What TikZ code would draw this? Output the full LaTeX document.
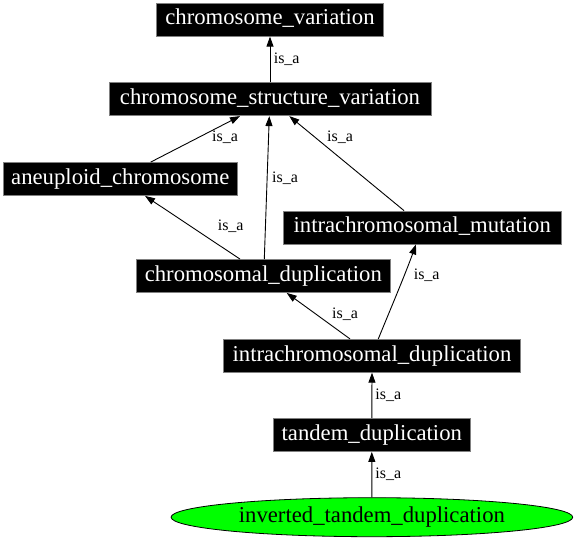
\documentclass[tikz,border=0pt]{standalone}
\usepackage{fontspec}
\setmainfont{Liberation Serif}
\usetikzlibrary{arrows.meta,shapes.geometric,calc}
\begin{document}
\begin{tikzpicture}[x=1pt,y=-1pt,
  box/.style={draw=gray,line width=0.8pt,fill=black,text=white,font=\fontsize{22.7}{26}\selectfont,inner sep=0pt,minimum height=33pt,text height=15.6pt,text depth=5pt},
  oval/.style={ellipse,draw=black,line width=0.8pt,fill=green,text=black,font=\fontsize{22.7}{26}\selectfont,inner sep=0pt,text height=15.6pt,text depth=5pt},
  lbl/.style={font=\fontsize{16}{18}\selectfont,inner sep=0pt},
  isa/.style={draw=black,line width=0.9pt,-{Triangle[length=10pt,width=7pt]}}]
\useasboundingbox[fill=white] (0,0) rectangle (576,540);
\node[box,minimum width=226.6pt] (cv) at (270,19.7) {chromosome\_variation};
\node[box,minimum width=322pt] (csv) at (270,99.2) {chromosome\_structure\_variation};
\node[box,minimum width=234pt] (aneu) at (120.3,179) {aneuploid\_chromosome};
\node[box,minimum width=277.7pt] (imut) at (422.2,227.5) {intrachromosomal\_mutation};
\node[box,minimum width=253.3pt] (cdup) at (263.3,276) {chromosomal\_duplication};
\node[box,minimum width=297.4pt] (idup) at (372,355.8) {intrachromosomal\_duplication};
\node[box,minimum width=197.3pt] (tdup) at (371.8,435) {tandem\_duplication};
\node[oval,minimum width=401.7pt,minimum height=39pt] (inv) at (371.9,517.2) {inverted\_tandem\_duplication};

\draw[isa] (csv.north) -- (cv.south);
\draw[isa] ([xshift=30.4pt]aneu.north) -- ([xshift=-30pt]csv.south);
\draw[isa] ([xshift=1pt]cdup.north) -- ([xshift=-0.7pt]csv.south);
\draw[isa] ([xshift=-18.2pt]imut.north) -- ([xshift=19.3pt]csv.south);
\draw[isa] ([xshift=-23.3pt]cdup.north) -- ([xshift=24.7pt]aneu.south);
\draw[isa] ([xshift=-22pt]idup.north) -- ([xshift=23.4pt]cdup.south);
\draw[isa] ([xshift=6.3pt]idup.north) .. controls (388,315) and (405,275) .. ([xshift=-6.2pt]imut.south);
\draw[isa] (tdup.north) -- (idup.south);
\draw[isa] (inv.north) -- (tdup.south);

\node[lbl] (l1) at (286.7,59) {is\_a};
\node[lbl] (l2) at (225,137) {is\_a};
\node[lbl] (l3) at (285,178) {is\_a};
\node[lbl] (l4) at (340,137) {is\_a};
\node[lbl] (l5) at (230.7,226.7) {is\_a};
\node[lbl] (l6) at (345,314.5) {is\_a};
\node[lbl] (l7) at (426.7,275.7) {is\_a};
\node[lbl] (l8) at (388.3,395) {is\_a};
\node[lbl] (l9) at (388.3,474) {is\_a};
\end{tikzpicture}
\end{document}
